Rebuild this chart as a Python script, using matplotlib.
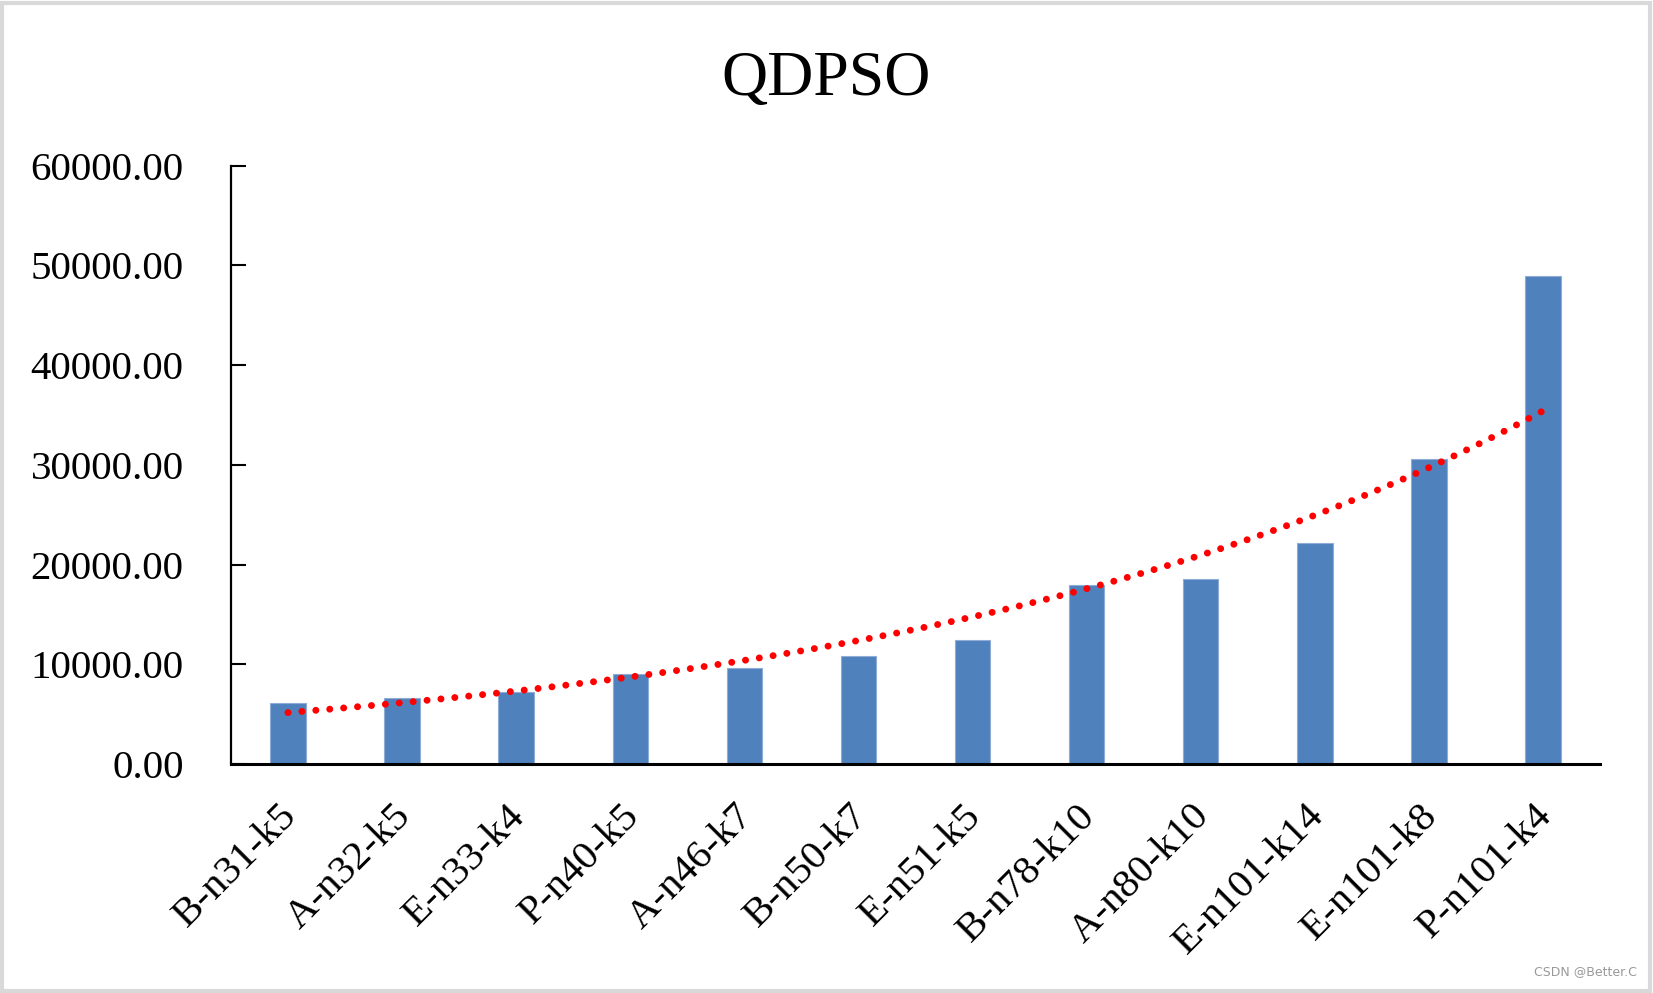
import numpy as np
import matplotlib
matplotlib.use("Agg")
import matplotlib.pyplot as plt
import matplotlib.transforms as mtransforms
from matplotlib.patches import Rectangle

categories = ["B-n31-k5", "A-n32-k5", "E-n33-k4", "P-n40-k5", "A-n46-k7", "B-n50-k7",
              "E-n51-k5", "B-n78-k10", "A-n80-k10", "E-n101-k14", "E-n101-k8", "P-n101-k4"]
values = [6150, 6600, 7200, 9000, 9600, 10800, 12400, 17900, 18500, 22150, 30600, 48900]
yticks = [0, 10000, 20000, 30000, 40000, 50000, 60000]

plt.rcParams["font.family"] = ["Liberation Serif", "DejaVu Serif"]

fig = plt.figure(figsize=(16.53, 9.93), dpi=100)
ax = fig.add_axes([0.1397, 0.2306, 0.8283, 0.6027])

x = np.arange(len(categories))
ax.bar(x, values, width=0.31, color="#4F81BD", edgecolor="#8EACD6", linewidth=0.8, zorder=2)

# exponential trend line, like the Excel trendline (fit on log values)
b, a = np.polyfit(x + 1, np.log(values), 1)
xs = np.linspace(0, len(categories) - 1, 300)
ax.plot(xs, np.exp(a + b * (xs + 1)), color="red", linewidth=5,
        linestyle=(0, (0.01, 2.0)), dash_capstyle="round", zorder=3)

ax.set_xlim(-0.5, len(categories) - 0.5)
ax.set_ylim(0, 60000)
ax.set_yticks(yticks)
ax.set_yticklabels([f"{v:.2f}" for v in yticks], fontsize=29.5)
ax.set_xticks(x)
ax.set_xticklabels(categories, fontsize=29.5, rotation=45, ha="right", va="top",
                   rotation_mode="anchor")
ax.tick_params(axis="x", length=0, pad=24)
ax.tick_params(axis="y", length=11, width=1.5, direction="in", pad=34)

shift = mtransforms.ScaledTranslation(-7 / 72, 0, fig.dpi_scale_trans)
for lab in ax.get_xticklabels():
    lab.set_transform(lab.get_transform() + shift)

for s in ["top", "right"]:
    ax.spines[s].set_visible(False)
ax.spines["left"].set_linewidth(1.6)
ax.spines["bottom"].set_linewidth(2.2)

fig.text(0.5, 0.919, "QDPSO", ha="center", va="center", fontsize=46)

fig.text(0.990, 0.015, "CSDN @Better.C", ha="right", va="bottom", fontsize=9,
         color="#999999", family=["DejaVu Sans"])

fig.patches.append(Rectangle((0.001, 0.002), 0.997, 0.995, transform=fig.transFigure,
                             fill=False, edgecolor="#d9d9d9", linewidth=3))

fig.savefig("out.png", dpi=100)
